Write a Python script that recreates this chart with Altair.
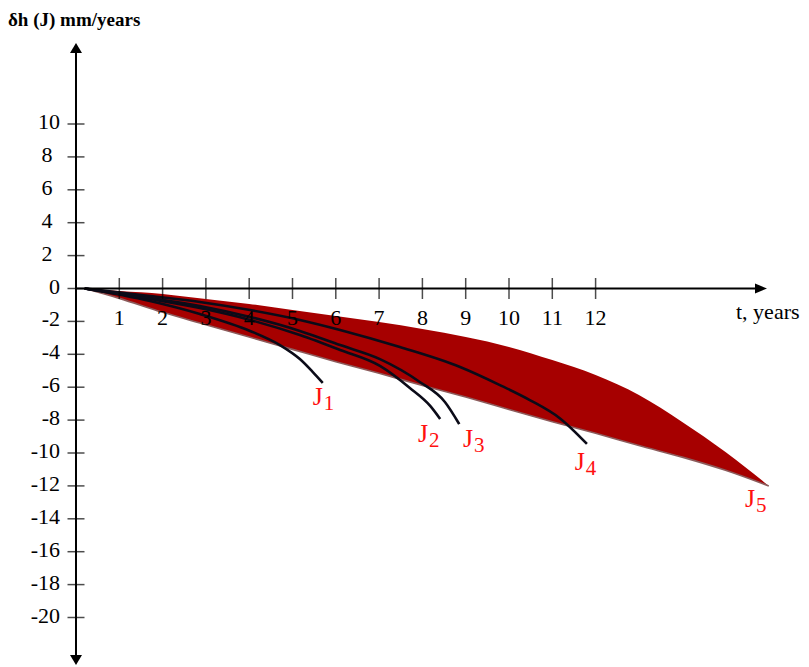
import altair as alt
import pandas as pd

# ---------------- data ----------------
# red envelope (J5)
band_t = [0.2, 1, 2, 3, 4, 5, 6, 7, 8, 9, 10, 11, 12, 13, 14, 15, 16]
band_upper = [0, -0.15, -0.33, -0.64, -0.94, -1.31, -1.67, -2.04, -2.46, -2.95,
              -3.55, -4.35, -5.26, -6.47, -8.11, -9.94, -12.0]
band_lower = [0, -0.60, -1.45, -2.20, -2.95, -3.70, -4.45, -5.15, -5.90, -6.60,
              -7.35, -8.10, -8.80, -9.55, -10.25, -11.05, -12.0]

# black curves J1..J4
j1_t = [0.2, 1.71, 2.86, 4.02, 4.71, 5.17, 5.47, 5.70]
j1_y = [0, -0.76, -1.55, -2.58, -3.44, -4.29, -5.08, -5.74]
j2_t = [0.2, 1.71, 2.86, 4.02, 5.17, 6.10, 7.02, 7.71, 8.18, 8.41]
j2_y = [0, -0.64, -1.19, -1.91, -2.83, -3.74, -4.71, -6.05, -7.14, -7.93]
j3_t = [0.2, 1.71, 2.86, 4.02, 5.17, 6.10, 7.02, 7.94, 8.52, 8.85]
j3_y = [0, -0.58, -1.06, -1.73, -2.58, -3.44, -4.29, -5.68, -6.90, -8.24]
j4_t = [0.2, 1.71, 2.86, 4.02, 5.17, 6.10, 7.48, 8.87, 9.79, 10.48, 11.18, 11.80]
j4_y = [0, -0.46, -0.82, -1.31, -1.91, -2.52, -3.56, -4.77, -5.87, -6.78, -7.90, -9.45]

# curve labels
label_sub = ["1", "2", "3", "4", "5"]
label_t = [5.47, 7.90, 8.94, 11.52, 15.45]
label_y = [-7.08, -9.34, -9.64, -11.03, -13.28]

# axes
x_ticks = list(range(1, 13))
y_ticks_right = [10, 0, -2, -4, -6, -8, -10, -12, -14, -16, -18, -20]
y_ticks_center = [8, 6, 4, 2]
x_axis_end = 15.7
y_axis_top = 14.5
y_axis_bottom = -22.4
arrow_right_t = 15.82
arrow_up_y = 14.62
arrow_down_y = -22.58

# ---------------- tables ----------------
band_df = pd.DataFrame({"t": band_t, "hi": band_upper, "lo": band_lower})
rows = []
for name, ts, ys in [("J1", j1_t, j1_y), ("J2", j2_t, j2_y),
                     ("J3", j3_t, j3_y), ("J4", j4_t, j4_y)]:
    for i, (a, b) in enumerate(zip(ts, ys)):
        rows.append({"series": name, "t": a, "y": b, "o": i})
lines_df = pd.DataFrame(rows)
labels_df = pd.DataFrame({"t": label_t, "y": label_y, "sub": label_sub})
xt_df = pd.DataFrame({"t": x_ticks, "y": [0] * len(x_ticks),
                      "lab": [str(v) for v in x_ticks]})
yr_df = pd.DataFrame({"t": [0] * len(y_ticks_right), "y": y_ticks_right,
                      "lab": [str(v) for v in y_ticks_right]})
yc_df = pd.DataFrame({"t": [0] * len(y_ticks_center), "y": y_ticks_center,
                      "lab": [str(v) for v in y_ticks_center]})
yall_df = pd.concat([yr_df, yc_df])

W, H = 793, 659
xscale = alt.Scale(domain=[-1.5704, (W - 68) / 43.3], nice=False, zero=False)
yscale = alt.Scale(domain=[-23.0091, 17.0517], nice=False, zero=False)
X = alt.X("t:Q", scale=xscale, axis=None)
Y = alt.Y("y:Q", scale=yscale, axis=None)
SERIF = "Liberation Serif"

band = alt.Chart(band_df).mark_area(color="#A60000", interpolate="monotone").encode(
    x=X, y=alt.Y("hi:Q", scale=yscale, axis=None), y2="lo:Q")
band_edge = alt.Chart(band_df).mark_line(
    color="#8c5c5c", strokeWidth=1.6, interpolate="monotone").encode(
    x=X, y=alt.Y("lo:Q", scale=yscale, axis=None))

curves = alt.Chart(lines_df).mark_line(
    color="#0b0b18", strokeWidth=2.6, interpolate="monotone").encode(
    x=X, y=Y, detail="series:N", order="o:Q")

x_axis = alt.Chart(pd.DataFrame({"t": [0], "t2": [x_axis_end], "y": [0]})).mark_rule(
    color="black", strokeWidth=2).encode(x=X, x2="t2:Q", y=Y)
y_axis = alt.Chart(pd.DataFrame({"t": [0], "y": [y_axis_top], "y2": [y_axis_bottom]})).mark_rule(
    color="black", strokeWidth=2).encode(x=X, y=Y, y2="y2:Q")

x_tick_marks = alt.Chart(xt_df).mark_tick(
    orient="vertical", size=21, thickness=1.5, color="black").encode(x=X, y=Y)
y_tick_marks = alt.Chart(yall_df).mark_tick(
    orient="horizontal", size=17, thickness=1.5, color="black").encode(x=X, y=Y)

x_labels = alt.Chart(xt_df).mark_text(
    font=SERIF, fontSize=22, color="black", align="center",
    baseline="alphabetic", dy=36).encode(x=X, y=Y, text="lab:N")
y_labels_r = alt.Chart(yr_df).mark_text(
    font=SERIF, fontSize=22, color="black", align="right",
    baseline="alphabetic", dx=-16, dy=5).encode(x=X, y=Y, text="lab:N")
y_labels_c = alt.Chart(yc_df).mark_text(
    font=SERIF, fontSize=22, color="black", align="center",
    baseline="alphabetic", dx=-29, dy=5).encode(x=X, y=Y, text="lab:N")

arrow_r = alt.Chart(pd.DataFrame({"t": [arrow_right_t], "y": [0]})).mark_point(
    shape="M-1,-0.83L1,0L-1,0.83Z", size=144, filled=True, color="black",
    opacity=1, strokeWidth=0).encode(x=X, y=Y)
arrow_u = alt.Chart(pd.DataFrame({"t": [0], "y": [arrow_up_y]})).mark_point(
    shape="M0,-0.83L1,0.83L-1,0.83Z", size=144, filled=True, color="black",
    opacity=1, strokeWidth=0).encode(x=X, y=Y)
arrow_d = alt.Chart(pd.DataFrame({"t": [0], "y": [arrow_down_y]})).mark_point(
    shape="M0,0.83L1,-0.83L-1,-0.83Z", size=144, filled=True, color="black",
    opacity=1, strokeWidth=0).encode(x=X, y=Y)

j_main = alt.Chart(labels_df).mark_text(
    font=SERIF, fontSize=26, color="#FF1010", align="left",
    baseline="alphabetic").encode(x=X, y=Y, text=alt.value("J"))
j_sub = alt.Chart(labels_df).mark_text(
    font=SERIF, fontSize=21, color="#FF1010", align="left",
    baseline="alphabetic", dx=11, dy=5).encode(x=X, y=Y, text="sub:N")

y_title = alt.Chart(pd.DataFrame({"a": [0]})).mark_text(
    font=SERIF, fontSize=19, fontWeight="bold", color="black", align="left",
    baseline="alphabetic").encode(x=alt.value(0), y=alt.value(17.5),
                                  text=alt.value("δh (J) mm/years"))
x_title = alt.Chart(pd.DataFrame({"a": [0]})).mark_text(
    font=SERIF, fontSize=22, color="black", align="left",
    baseline="alphabetic").encode(x=alt.value(728), y=alt.value(311),
                                  text=alt.value("t, years"))

chart = alt.layer(
    band, band_edge, curves, x_axis, y_axis, x_tick_marks, y_tick_marks,
    x_labels, y_labels_r, y_labels_c, arrow_r, arrow_u, arrow_d,
    j_main, j_sub, y_title, x_title
).properties(
    width=W, height=H, padding=0, autosize=alt.AutoSizeParams(type="none")
).configure_view(stroke=None)

chart.save("out.html", embed_options={"renderer": "svg", "actions": False})
